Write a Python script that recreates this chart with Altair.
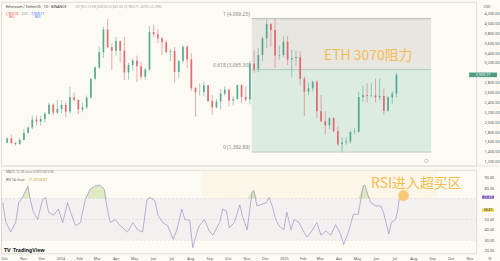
import altair as alt
import pandas as pd
import numpy as np

# ---------------- data ----------------
WEEK_START = "2023-09-25"          # weekly candles, Monday starts
FIRST_OPEN = 1580
CLOSE = [1671, 1580, 1555, 1637, 1780, 1892, 2052, 2010, 2063, 2173, 2353, 2195, 2267, 2352,
         2215, 2508, 2450, 2257, 2300, 2500, 2880, 3110, 3420, 3880, 3520, 3450, 3645, 3450,
         3010, 3160, 3250, 3135, 2920, 3070, 3830, 3780, 3700, 3620, 3420, 3440, 3020, 3245,
         3530, 3270, 2690, 2610, 2610, 2750, 2430, 2300, 2420, 2580, 2660, 2440, 2470, 2750,
         2510, 2460, 3190, 3080, 3360, 3700, 3990, 3870, 3350, 3360, 3630,
         3270, 3300, 3320, 2880, 2620, 2690, 2820, 2220, 2020, 1935, 2080, 1820, 1550, 1590,
         1610, 1800, 1810, 2510, 2550, 2530, 2540, 2505, 2530, 2230, 2500, 2580, 2960]
HIGH = [1700, 1745, 1590, 1680, 1865, 1910, 2136, 2130, 2130, 2200, 2400, 2380, 2448, 2445,
        2415, 2717, 2600, 2470, 2395, 2540, 2890, 3130, 3540, 3935, 4093, 3600, 3730, 3650,
        3730, 3200, 3290, 3350, 3220, 3100, 3950, 3975, 3890, 3730, 3660, 3480, 3525, 3250,
        3560, 3565, 3400, 2720, 2780, 2820, 2760, 2550, 2480, 2670, 2730, 2680, 2520, 2760,
        2770, 2720, 3240, 3450, 3500, 3740, 4090, 4010, 4099, 3550, 3740,
        3745, 3470, 3450, 3440, 2930, 2800, 2840, 2850, 2550, 2220, 2100, 2100, 1920, 1690,
        1690, 1830, 1880, 2620, 2740, 2790, 2790, 2880, 2880, 2680, 2530, 2630, 3000]
LOW = [1570, 1552, 1521, 1540, 1630, 1775, 1860, 1930, 1930, 1990, 2160, 2145, 2165, 2185,
       2100, 2168, 2420, 2165, 2200, 2260, 2480, 2850, 3085, 3300, 3500, 3060, 3350, 3210,
       2850, 2860, 3050, 2815, 2865, 2865, 3040, 3720, 3600, 3360, 3400, 3240, 2810, 2900,
       3200, 3100, 2630, 2110, 2540, 2530, 2400, 2150, 2280, 2260, 2540, 2310, 2340, 2460,
       2390, 2420, 2360, 3000, 3010, 3240, 3500, 3530, 3100, 3270, 3320,
       3160, 2920, 3140, 2750, 2120, 2550, 2620, 2080, 2000, 1760, 1860, 1780, 1520, 1385,
       1540, 1570, 1750, 1785, 2410, 2400, 2500, 2400, 2440, 2150, 2210, 2370, 2500]

RSI_DATES = ["2023-09-29", "2023-10-04", "2023-10-12", "2023-10-20", "2023-10-25", "2023-10-31",
             "2023-11-09", "2023-11-13", "2023-11-18", "2023-11-25", "2023-12-03", "2023-12-08",
             "2023-12-13", "2023-12-21", "2023-12-29",
             "2024-01-05", "2024-01-13", "2024-01-18", "2024-01-26", "2024-02-03", "2024-02-11",
             "2024-02-19", "2024-02-27", "2024-03-06", "2024-03-13", "2024-03-18", "2024-03-23",
             "2024-03-31", "2024-04-08", "2024-04-20", "2024-04-29", "2024-05-07", "2024-05-15",
             "2024-05-22", "2024-05-27", "2024-06-04", "2024-06-09", "2024-06-17", "2024-06-25",
             "2024-07-04", "2024-07-10", "2024-07-18", "2024-07-23", "2024-07-31", "2024-08-05",
             "2024-08-13", "2024-08-16", "2024-08-24", "2024-09-01", "2024-09-07", "2024-09-18",
             "2024-09-23", "2024-09-29", "2024-10-04", "2024-10-12", "2024-10-21", "2024-10-25",
             "2024-11-02", "2024-11-10", "2024-11-13", "2024-11-18", "2024-11-24", "2024-12-03",
             "2024-12-08", "2024-12-13", "2024-12-19", "2024-12-24",
             "2025-01-01", "2025-01-06", "2025-01-13", "2025-01-18", "2025-01-26", "2025-02-03",
             "2025-02-08", "2025-02-16", "2025-02-24", "2025-03-03", "2025-03-11", "2025-03-19",
             "2025-03-27", "2025-04-04", "2025-04-09", "2025-04-17", "2025-04-25", "2025-05-03",
             "2025-05-11", "2025-05-14", "2025-05-19", "2025-05-24", "2025-06-01", "2025-06-09",
             "2025-06-14", "2025-06-22", "2025-06-26", "2025-07-03", "2025-07-06", "2025-07-09",
             "2025-07-11"]
RSI_VALUES = [66, 47, 38, 47, 66, 71, 82, 69, 57, 50, 69, 71, 57, 54, 60,
              47, 66, 57, 44, 47, 69, 79, 82, 83, 79, 60, 47, 50, 44, 38, 47, 40, 38, 69, 71,
              68, 54, 47, 44, 31, 40, 60, 50, 49, 23, 40, 44, 50, 39, 35, 47, 60, 58, 42, 47,
              64, 54, 40, 76, 78, 63, 64, 66, 71, 63, 50, 44,
              40, 57, 40, 50, 47, 38, 33, 39, 47, 35, 39, 35, 45, 36, 26, 38, 55, 55, 82, 83,
              73, 66, 63, 63, 55, 36, 47, 50, 57, 69, 72]

FIB_START = "2024-11-10"
FIB_END = "2025-09-06"
FIB_LEVELS = [4099.25, 3065.30, 1392.89]
FIB_LABELS = ["1 (4,099.25)", "0.618 (3,065.30)", "0 (1,392.89)"]

PRICE_TICKS = [1200, 1400, 1600, 1800, 2000, 2200, 2400, 2600, 2800,
               3200, 3400, 3600, 3800, 4000, 4200]
RSI_TICKS = [20, 30, 40, 50, 80, 90]
LAST_PRICE = 2959.71
RSI_LAST = 71.4
RSI_MA_LAST = 58.9

ANNOT_PRICE = "ETH 3070阻力"
ANNOT_RSI = "RSI进入超买区"

# ---------------- frames ----------------
weeks = pd.date_range(WEEK_START, periods=len(CLOSE), freq="7D")
opens = [FIRST_OPEN] + CLOSE[:-1]
candles = pd.DataFrame({"t": weeks + pd.Timedelta(days=3), "open": opens,
                        "close": CLOSE, "high": HIGH, "low": LOW})
candles["dir"] = np.where(candles["close"] >= candles["open"], "up", "down")

assert len(RSI_DATES) == len(RSI_VALUES)
rsi = pd.DataFrame({"t": pd.to_datetime(RSI_DATES), "v": RSI_VALUES})
rsi["ob"] = np.maximum(rsi["v"], 70)

fib_box = pd.DataFrame({"t0": pd.to_datetime([FIB_START] * 2), "t1": pd.to_datetime([FIB_END] * 2),
                        "y0": FIB_LEVELS[:2], "y1": FIB_LEVELS[1:],
                        "fill": ["#7a7a80", "#2f9e80"], "op": [0.15, 0.15]})
fib_lines = pd.DataFrame({"t0": pd.to_datetime([FIB_START] * 3), "t1": pd.to_datetime([FIB_END] * 3),
                          "y": FIB_LEVELS, "label": FIB_LABELS,
                          "col": ["#a8a8a8", "#9cc4b6", "#bdbdbd"]})

X0 = pd.Timestamp("2023-09-26")
X1 = pd.Timestamp("2025-11-12")
XSCALE = alt.Scale(domain=[alt.DateTime(year=2023, month=9, date=26),
                           alt.DateTime(year=2025, month=11, date=12)])
PSCALE = alt.Scale(domain=[1115, 4442], nice=False, zero=False)
RSCALE = alt.Scale(domain=[17.6, 97.6], nice=False, zero=False)

LBL = dict(labelFontSize=3.8, labelColor="#555555", domain=False, ticks=False,
           grid=False, title=None, labelFont="Noto Sans")
PAXIS = alt.Axis(orient="right", values=PRICE_TICKS, format=",.2f", labelPadding=8, **LBL)
RAXIS = alt.Axis(orient="right", values=RSI_TICKS, format=".2f", labelPadding=8, **LBL)
XAXIS = alt.Axis(tickCount={"interval": "month", "step": 1}, labelPadding=3,
                 labelExpr="month(datum.value) == 0 ? timeFormat(datum.value, '%Y') : timeFormat(datum.value, '%b')",
                 labelOverlap=False, labelFlush=False, **LBL)
CANDLE_COLOR = alt.Color("dir:N", scale=alt.Scale(domain=["up", "down"],
                                                  range=["#3c9c84", "#e0525c"]), legend=None)


def px_text(text, x, y, size, color, align="left", weight="normal"):
    return alt.Chart(pd.DataFrame({"s": [text]})).mark_text(
        align=align, baseline="middle", fontSize=size, color=color, fontWeight=weight,
        font="Noto Sans").encode(x=alt.value(x), y=alt.value(y), text="s:N")


# ---------------- price pane ----------------
box = alt.Chart(fib_box).mark_rect().encode(
    x=alt.X("t0:T", scale=XSCALE, axis=None), x2="t1:T",
    y=alt.Y("y0:Q", scale=PSCALE, axis=PAXIS), y2="y1:Q",
    color=alt.Color("fill:N", scale=None), opacity=alt.Opacity("op:Q", scale=None))
fl = alt.Chart(fib_lines).mark_rule(strokeWidth=0.8).encode(
    x=alt.X("t0:T", scale=XSCALE, axis=None), x2="t1:T",
    y=alt.Y("y:Q", scale=PSCALE, axis=PAXIS), color=alt.Color("col:N", scale=None))
ft = alt.Chart(fib_lines).mark_text(align="right", baseline="bottom", dx=-2, dy=-2,
                                    fontSize=5, color="#8a8a8a").encode(
    x=alt.X("t0:T", scale=XSCALE, axis=None),
    y=alt.Y("y:Q", scale=PSCALE, axis=PAXIS), text="label:N")
wick = alt.Chart(candles).mark_rule(strokeWidth=0.6, opacity=0.8).encode(
    x=alt.X("t:T", scale=XSCALE, axis=None),
    y=alt.Y("low:Q", scale=PSCALE, axis=PAXIS), y2="high:Q", color=CANDLE_COLOR)
body = alt.Chart(candles).mark_bar(size=1.8, opacity=0.75).encode(
    x=alt.X("t:T", scale=XSCALE, axis=None),
    y=alt.Y("open:Q", scale=PSCALE, axis=PAXIS), y2="close:Q", color=CANDLE_COLOR)
eth_txt = alt.Chart(pd.DataFrame({"t": [pd.Timestamp("2025-03-11")], "y": [3333], "s": [ANNOT_PRICE]})).mark_text(
    align="left", baseline="middle", fontSize=14, color="#f5bd4f",
    font="Noto Sans CJK SC").encode(
    x=alt.X("t:T", scale=XSCALE, axis=None), y=alt.Y("y:Q", scale=PSCALE, axis=PAXIS), text="s:N")
half = 2.3 * (4442 - 1115) / 165
plabel = alt.Chart(pd.DataFrame({"lo": [LAST_PRICE - half], "hi": [LAST_PRICE + half]})).mark_rect(
    color="#4e9c82").encode(x=alt.value(471), x2=alt.value(499),
                            y=alt.Y("lo:Q", scale=PSCALE, axis=PAXIS), y2="hi:Q")
ptext = alt.Chart(pd.DataFrame({"y": [LAST_PRICE], "s": ["2,959.71"]})).mark_text(
    align="center", baseline="middle", fontSize=3.8, color="white").encode(
    x=alt.value(485), y=alt.Y("y:Q", scale=PSCALE, axis=PAXIS), text="s:N")
sep = alt.Chart(pd.DataFrame({"y": [1115]})).mark_rule(color="#e6e4df", strokeWidth=1).encode(
    x=alt.value(0), x2=alt.value(500), y=alt.Y("y:Q", scale=PSCALE, axis=PAXIS))
clock = alt.Chart(pd.DataFrame({"t": [pd.Timestamp("2025-08-29")], "y": [1216]})).mark_point(
    shape="circle", size=12, color="#888888", strokeWidth=0.6).encode(
    x=alt.X("t:T", scale=XSCALE, axis=None), y=alt.Y("y:Q", scale=PSCALE, axis=PAXIS))

legend_title = px_text("Ethereum / TetherUS · 1D · BINANCE", 5, 5, 3.6, "#333333")
legend_ohlc = px_text("O2,951.12 H3,000.00 L2,941.00 C2,959.71 +8.59 (+0.29%)", 75, 5, 3.3, "#a0a0a0")
sell_box = px_text("2,959.70", 11, 12, 3.3, "#f23645", align="center")
sell_lbl = px_text("SELL", 11, 15.5, 2.8, "#f23645", align="center")
buy_box = px_text("2,959.71", 37, 12, 3.3, "#2962ff", align="center")
buy_lbl = px_text("BUY", 37, 15.5, 2.8, "#2962ff", align="center")
mid_lbl = px_text("0.01", 24, 12, 2.8, "#777777", align="center")
usd = px_text("USD", 489, 5, 3.5, "#555555", align="center")

top = alt.layer(box, fl, ft, wick, body, eth_txt, sep, clock, plabel, ptext,
                legend_title, legend_ohlc, sell_box, sell_lbl, buy_box, buy_lbl, mid_lbl, usd
                ).properties(width=478, height=165)

# ---------------- RSI pane ----------------
full = pd.DataFrame({"t0": [X0], "t1": [X1], "a": [30], "b": [70]})
band = alt.Chart(full).mark_rect(color="#7e57c2", opacity=0.06).encode(
    x=alt.X("t0:T", scale=XSCALE, axis=XAXIS), x2="t1:T",
    y=alt.Y("a:Q", scale=RSCALE, axis=RAXIS), y2="b:Q")
hi_zone = alt.Chart(pd.DataFrame({"t0": [pd.Timestamp("2024-08-20")], "t1": [pd.Timestamp("2025-09-09")],
                                  "a": [70], "b": [97.6]})).mark_rect(color="#fbe7b0", opacity=0.15).encode(
    x=alt.X("t0:T", scale=XSCALE, axis=XAXIS), x2="t1:T",
    y=alt.Y("a:Q", scale=RSCALE, axis=RAXIS), y2="b:Q")
lv = pd.DataFrame({"t0": [X0] * 3, "t1": [X1] * 3, "y": [70, 50, 30]})
lvl = alt.Chart(lv).mark_rule(color="#b4abd0", strokeWidth=0.5, strokeDash=[2, 2], opacity=0.5).encode(
    x=alt.X("t0:T", scale=XSCALE, axis=XAXIS), x2="t1:T", y=alt.Y("y:Q", scale=RSCALE, axis=RAXIS))
ob = alt.Chart(rsi).mark_area(color="#8bc34a", opacity=0.28).encode(
    x=alt.X("t:T", scale=XSCALE, axis=XAXIS),
    y=alt.Y("ob:Q", scale=RSCALE, axis=RAXIS), y2=alt.datum(70))
line = alt.Chart(rsi).mark_line(color="#9d90c6", strokeWidth=0.7).encode(
    x=alt.X("t:T", scale=XSCALE, axis=XAXIS), y=alt.Y("v:Q", scale=RSCALE, axis=RAXIS))
rsi_txt = alt.Chart(pd.DataFrame({"t": [pd.Timestamp("2025-05-24")], "y": [84.3], "s": [ANNOT_RSI]})).mark_text(
    align="left", baseline="middle", fontSize=14, color="#f5bd4f",
    font="Noto Sans CJK SC").encode(
    x=alt.X("t:T", scale=XSCALE, axis=XAXIS), y=alt.Y("y:Q", scale=RSCALE, axis=RAXIS), text="s:N")
dot = alt.Chart(pd.DataFrame({"t": [pd.Timestamp("2025-07-16")], "y": [72.9]})).mark_circle(
    size=120, color="#f7c66b", opacity=0.9).encode(
    x=alt.X("t:T", scale=XSCALE, axis=XAXIS), y=alt.Y("y:Q", scale=RSCALE, axis=RAXIS))
r_half = 1.6 * 80 / 84
rl = pd.DataFrame({"lo": [RSI_LAST - r_half, RSI_MA_LAST - r_half],
                   "hi": [RSI_LAST + r_half, RSI_MA_LAST + r_half],
                   "mid": [RSI_LAST, RSI_MA_LAST],
                   "c": ["#7e57c2", "#e8d64a"], "s": ["71.39", "58.87"],
                   "tc": ["white", "#333333"]})
rlab = alt.Chart(rl).mark_rect().encode(
    x=alt.value(484), x2=alt.value(496),
    y=alt.Y("lo:Q", scale=RSCALE, axis=RAXIS), y2="hi:Q", color=alt.Color("c:N", scale=None))
rlabt = alt.Chart(rl).mark_text(fontSize=3.3, align="center", baseline="middle").encode(
    x=alt.value(490), y=alt.Y("mid:Q", scale=RSCALE, axis=RAXIS), text="s:N",
    color=alt.Color("tc:N", scale=None))
macd_lbl = px_text("MACD 12 26 close  0.00  0.00  0.00", 5, 2, 3.2, "#777777")
rsi_lbl = px_text("RSI 14 close", 5, 10, 3.4, "#555555")
rsi_val = px_text("71.39  58.87", 28, 10, 3.4, "#b9a83a")
tv_logo = px_text("TV", 3, 81, 5.5, "#131722", weight="bold")
tv_text = px_text("TradingView", 12, 81, 5.2, "#131722", weight="bold")
gear = px_text("⚙", 492, 90, 4, "#777777", align="center")

bottom = alt.layer(hi_zone, band, lvl, ob, line, rsi_txt, dot, rlab, rlabt,
                   macd_lbl, rsi_lbl, rsi_val, tv_logo, tv_text, gear
                   ).properties(width=478, height=84)

chart = alt.vconcat(top, bottom, spacing=2).properties(
    padding=0, background="#fcfaf3"
).configure_view(stroke=None).configure(font="Noto Sans")

chart.save("out.html", embed_options={"renderer": "svg", "actions": False})
